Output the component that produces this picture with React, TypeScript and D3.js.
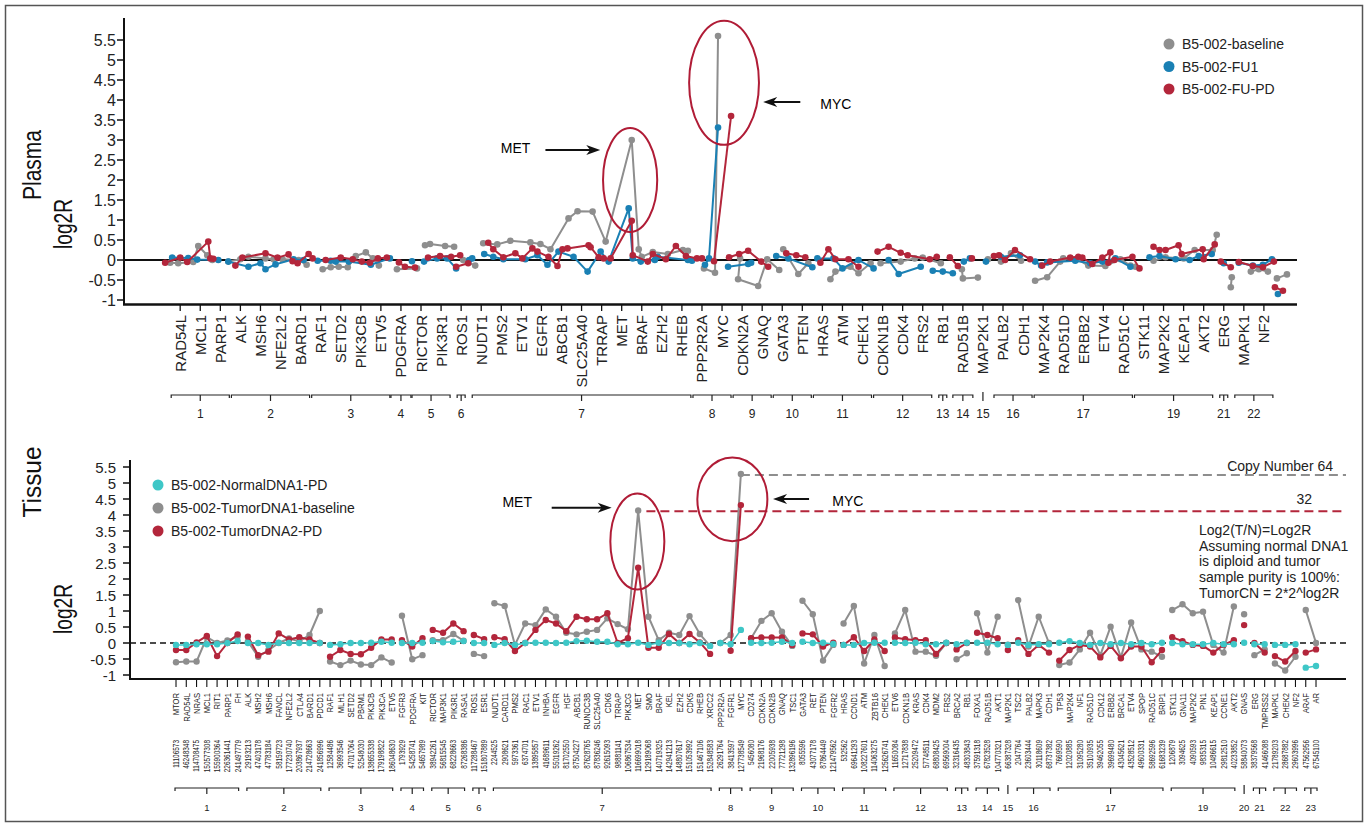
import React, { useEffect, useRef } from 'react'
import * as d3 from 'd3'

const W = 1370
const H = 825
const FONT = 'Liberation Sans, Arial, Helvetica, sans-serif'

const GRAY = '#8e8e8e'
const BLUE = '#1a80b4'
const RED = '#b3263b'
const CYAN = '#3ec7c7'
const RING = '#b01c36'

// ---------------- Plasma panel ----------------
const PLASMA_GENES = [
  'RAD54L', 'MCL1', 'PARP1', 'ALK', 'MSH6', 'NFE2L2', 'BARD1', 'RAF1', 'SETD2', 'PIK3CB', 'ETV5',
  'PDGFRA', 'RICTOR', 'PIK3R1', 'ROS1', 'NUDT1', 'PMS2', 'ETV1', 'EGFR', 'ABCB1', 'SLC25A40', 'TRRAP',
  'MET', 'BRAF', 'EZH2', 'RHEB', 'PPP2R2A', 'MYC', 'CDKN2A', 'GNAQ', 'GATA3', 'PTEN', 'HRAS', 'ATM',
  'CHEK1', 'CDKN1B', 'CDK4', 'FRS2', 'RB1', 'RAD51B', 'MAP2K1', 'PALB2', 'CDH1', 'MAP2K4', 'RAD51D',
  'ERBB2', 'ETV4', 'RAD51C', 'STK11', 'MAP2K2', 'KEAP1', 'AKT2', 'ERG', 'MAPK1', 'NF2',
]
const PLASMA_CHR = ['1', '2', '3', '4', '5', '6', '7', '8', '9', '10', '11', '12', '13', '14', '15', '16', '17', '19', '21', '22']
const PLASMA_CHR_SIZE = [3, 4, 4, 1, 2, 1, 11, 2, 2, 2, 3, 3, 1, 1, 1, 2, 5, 4, 1, 2]

// segments per chromosome: [gene position, log2R]
const PLASMA_BASELINE: [number, number][][] = [
  [[-0.5, -0.07], [-0.1, -0.08], [0.65, -0.05], [0.9, 0.35], [1.35, 0.12], [1.6, 0.0]],
  [[2.4, -0.04], [3.0, 0.02], [3.4, 0.08], [4.25, 0.04], [4.65, 0.02], [5.1, 0.02], [5.9, 0.0], [6.3, -0.12]],
  [[7.1, -0.23], [7.5, -0.18], [7.9, -0.17], [8.35, -0.18], [8.75, 0.1], [9.25, 0.19], [9.6, 0.04], [9.9, -0.14]],
  [[10.8, -0.23], [11.8, -0.21]],
  [[12.2, 0.37], [12.45, 0.4], [13.2, 0.35], [13.65, 0.33]],
  [[14.1, 0.0], [14.7, -0.14]],
  [[15.1, 0.42], [15.8, 0.39], [16.45, 0.48], [17.45, 0.44], [17.95, 0.4], [18.45, 0.27], [19.35, 1.04], [19.8, 1.22],
    [20.55, 1.21], [21.2, 0.46], [22.5, 3.0], [22.85, 0.27], [23.0, 0.08], [23.55, 0.2], [24.3, 0.15], [25.05, 0.25], [25.3, 0.23]],
  [[26.1, -0.21], [26.65, -0.32], [26.8, 5.6]],
  [[27.9, 0.04], [27.8, -0.48], [28.8, -0.65], [29.25, 0.02], [29.85, -0.25]],
  [[30.05, 0.27], [30.8, -0.35], [31.3, -0.08]],
  [[32.4, -0.48], [32.65, -0.29], [33.4, -0.17], [33.8, -0.33], [34.4, -0.08]],
  [[34.9, -0.08], [35.9, -0.04], [36.6, 0.04], [37.0, 0.06], [37.9, -0.08]],
  [[38.95, -0.23], [39.0, -0.46], [39.75, -0.44]],
  [[40.25, 0.02]],
  [[40.9, -0.04], [41.4, 0.17], [41.9, -0.02]],
  [[42.6, -0.52], [43.2, -0.43], [43.85, -0.04], [44.0, 0.04], [44.7, 0.02], [45.25, -0.14], [46.1, -0.15], [46.85, 0.02],
    [47.35, -0.14], [47.6, -0.17]],
  [[48.5, -0.02], [49.1, 0.07], [50.0, 0.04], [50.55, 0.25], [51.45, 0.25], [51.65, 0.63]],
  [[52.4, -0.43], [52.35, -0.68]],
  [[53.35, -0.29], [53.75, -0.23], [54.2, -0.29]],
  [[54.65, -0.46], [55.15, -0.36]],
]
const PLASMA_FU1: [number, number][][] = [
  [[-0.4, 0.06], [0.4, 0.05], [0.85, 0.01], [1.9, 0.0]],
  [[2.4, -0.04], [3.4, -0.17], [4.0, -0.08], [4.25, -0.23], [4.75, -0.11], [5.65, 0.02], [6.15, 0.0]],
  [[6.85, -0.02], [7.5, -0.02], [7.75, -0.04], [8.4, -0.04], [9.5, -0.12], [10.45, 0.04]],
  [[11.55, -0.03]],
  [[12.15, -0.04], [12.8, 0.04], [13.3, 0.04], [13.75, -0.21]],
  [[14.4, 0.0], [14.55, 0.04]],
  [[15.15, 0.15], [15.6, 0.08], [16.1, 0.02], [17.2, 0.02], [17.8, 0.12], [18.3, -0.12], [18.85, 0.21], [19.6, 0.08],
    [20.3, -0.29], [20.95, 0.21], [21.35, -0.04], [22.35, 1.29], [22.55, 0.04], [22.95, -0.04], [23.65, 0.0], [23.8, 0.08],
    [25.3, 0.0], [25.5, -0.02]],
  [[26.15, -0.12], [26.35, 0.04], [26.8, 3.31]],
  [[27.3, -0.17], [28.3, -0.1], [28.45, -0.07]],
  [[29.7, 0.1], [30.3, 0.04], [31.5, -0.18]],
  [[31.75, 0.04], [32.55, 0.04], [33.0, -0.21], [33.8, 0.0], [34.55, -0.21]],
  [[35.3, 0.0], [35.8, -0.35], [36.9, -0.17]],
  [[37.5, -0.27], [38.0, -0.29], [38.5, -0.33]],
  [[39.05, -0.04], [39.35, 0.04]],
  [[40.15, -0.04]],
  [[40.9, 0.08], [41.85, 0.12]],
  [[42.6, -0.04], [42.9, -0.14], [43.2, -0.06], [44.6, -0.02], [45.35, -0.08], [45.95, -0.04], [46.6, 0.04], [47.35, -0.17]],
  [[48.3, 0.07], [48.8, 0.1], [49.6, 0.02], [50.3, 0.0], [50.75, 0.1], [51.4, 0.15]],
  [[52.0, -0.08]],
  [[52.75, -0.07], [53.45, -0.14], [53.95, -0.12], [54.4, 0.02]],
  [[54.7, -0.85]],
]
const PLASMA_FUPD: [number, number][][] = [
  [[-0.75, -0.07], [0.0, 0.06], [0.35, -0.05], [1.4, 0.46], [1.5, 0.04], [1.65, 0.03]],
  [[2.75, -0.14], [3.1, 0.06], [4.25, 0.17], [4.85, 0.06], [5.4, 0.14], [5.6, -0.03], [5.85, -0.08], [6.4, 0.15], [6.6, 0.04]],
  [[7.25, 0.0], [8.0, 0.06], [8.6, 0.02], [9.05, -0.04], [9.45, -0.07], [9.85, 0.04], [10.3, 0.06]],
  [[10.9, -0.06], [11.2, -0.17], [11.7, -0.19]],
  [[12.35, 0.06], [12.95, 0.1], [13.5, 0.08], [13.95, 0.12]],
  [[13.75, -0.17], [14.35, -0.08]],
  [[15.35, 0.43], [15.6, 0.27], [16.1, 0.07], [16.7, 0.17], [17.05, 0.04], [17.55, 0.29], [17.8, 0.21], [18.35, 0.08],
    [18.8, -0.15], [19.05, 0.27], [19.3, 0.29], [20.35, 0.37], [20.45, 0.32], [20.85, 0.07], [21.1, 0.04], [21.45, 0.04],
    [22.5, 0.98], [22.55, 0.12], [23.3, -0.04], [23.55, 0.15], [24.2, 0.02], [24.7, 0.35], [25.2, 0.1], [25.75, 0.04], [26.0, 0.04]],
  [[26.6, -0.03], [27.45, 3.6]],
  [[27.35, 0.07], [27.85, 0.15], [28.3, 0.23], [28.95, -0.04], [29.3, -0.17]],
  [[30.2, 0.17], [30.7, 0.12], [31.15, 0.07]],
  [[31.9, -0.07], [32.3, 0.27], [32.65, 0.02], [33.3, 0.02], [33.8, -0.17]],
  [[34.75, 0.21], [35.3, 0.33], [35.9, 0.18], [36.25, 0.12], [37.35, 0.02], [37.7, 0.08]],
  [[38.35, 0.07], [38.75, -0.15]],
  [[39.45, 0.04]],
  [[40.55, 0.1], [40.8, 0.12], [41.1, 0.0], [41.6, 0.25], [42.35, 0.02]],
  [[42.95, -0.14], [43.35, -0.04], [44.35, 0.06], [44.75, 0.08], [44.95, 0.06], [45.45, -0.1], [45.95, 0.06], [46.35, 0.19],
    [46.25, -0.07], [46.55, 0.0], [47.45, 0.08], [47.8, -0.21]],
  [[48.5, 0.33], [48.8, 0.25], [49.1, 0.25], [49.75, 0.37], [49.9, 0.15], [50.95, 0.27], [51.0, 0.02], [51.55, 0.39]],
  [[51.85, -0.04], [52.35, -0.18]],
  [[52.75, -0.05], [53.45, -0.15], [53.95, -0.18], [54.5, -0.04]],
  [[54.55, -0.68], [54.95, -0.77]],
]

// ---------------- Tissue panel ----------------
const TISSUE_GENES = [
  'MTOR', 'RAD54L', 'NRAS', 'MCL1', 'RIT1', 'PARP1', 'FH',
  'ALK', 'MSH2', 'MSH6', 'FANCL', 'NFE2L2', 'CTLA4', 'BARD1', 'PDCD1',
  'RAF1', 'MLH1', 'SETD2', 'PBRM1', 'PIK3CB', 'PIK3CA', 'ETV5',
  'FGFR3', 'PDGFRA', 'KIT',
  'RICTOR', 'MAP3K1', 'PIK3R1', 'RASA1',
  'ROS1', 'ESR1',
  'NUDT1', 'CARD11', 'PMS2', 'RAC1', 'ETV1', 'INHBA', 'EGFR', 'HGF', 'ABCB1', 'RUNDC3B', 'SLC25A40', 'CDK6',
  'TRRAP', 'PIK3CG', 'MET', 'SMO', 'BRAF', 'KEL', 'EZH2', 'CDK5', 'RHEB', 'XRCC2',
  'PPP2R2A', 'FGFR1', 'MYC',
  'CD274', 'CDKN2A', 'CDKN2B', 'GNAQ', 'TSC1',
  'GATA3', 'RET', 'PTEN', 'FGFR2',
  'HRAS', 'CCND1', 'ATM', 'ZBTB16', 'CHEK1',
  'ETV6', 'CDKN1B', 'KRAS', 'CDK4', 'MDM2', 'FRS2',
  'BRCA2', 'RB1',
  'FOXA1', 'RAD51B', 'AKT1',
  'MAP2K1',
  'TSC2', 'PALB2', 'MAPK3', 'CDH1',
  'TP53', 'MAP2K4', 'NF1', 'RAD51D', 'CDK12', 'ERBB2', 'BRCA1', 'ETV4', 'SPOP', 'RAD51C', 'BRIP1',
  'STK11', 'GNA11', 'MAP2K2', 'PIN1', 'KEAP1', 'CCNE1', 'AKT2',
  'GNAS',
  'ERG', 'TMPRSS2',
  'MAPK1', 'CHEK2', 'NF2',
  'ARAF', 'AR',
]
const TISSUE_POS = [
  '11106573', '46248348', '114708475', '150577308', '155900364', '226361441', '241497779',
  '29193213', '47403178', '47783184', '58159723', '177230740', '203867937', '214728663', '241856996',
  '12584486', '36993546', '47017064', '52548030', '138655338', '179198822', '186048630',
  '1793929', '54258741', '54657989',
  '38942261', '56815545', '68228663', '87268386',
  '117288467', '151807889',
  '2244525', '2908621', '5973361', '6374701', '13895857', '41689611', '55019262', '81702550', '87504227', '87628765',
  '87836246', '92615093', '98881141', '106867534', '116699018', '129189068', '140719325', '142941213', '148807617',
  '151053992', '151467106', '152848583',
  '26291764', '38413597', '127738549',
  '5456080', '21968176', '22005938', '77721298', '132896196',
  '8055596', '43077178', '87864449', '121479562',
  '532562', '69641293', '108227601', '114063275', '125626741',
  '11650084', '12717838', '25209472', '57748511', '68808425', '69569004',
  '32316435', '48303843',
  '37591318', '67823528', '104770321',
  '66387328',
  '2047764', '23603444', '30118609', '68737382',
  '7669590', '12020885', '31095280', '35100935', '39462055', '39699480', '43045621', '43528512', '49600331', '58692596', '61683239',
  '1206879', '3094625', '4090593', '9835315', '10486615', '29812510', '40233852',
  '58840073',
  '38379568', '41466088',
  '21789203', '28687882', '29603996',
  '47562956', '67545100',
]
const TISSUE_CHR = ['1', '2', '3', '4', '5', '6', '7', '8', '9', '10', '11', '12', '13', '14', '15', '16', '17', '19', '20', '21', '22', '23']
const TISSUE_CHR_SIZE = [7, 8, 7, 3, 4, 2, 22, 3, 5, 4, 5, 6, 2, 3, 1, 4, 11, 7, 1, 2, 3, 2]

const TISSUE_NORMAL: (number | null)[] = [
  -0.06, -0.06, -0.04, -0.04, -0.04, 0.0, 0.06,
  0.0, 0.0, -0.06, 0.01, 0.0, 0.0, 0.0, 0.0,
  -0.06, -0.04, 0.0, 0.0, 0.01, 0.04, 0.01,
  0.0, 0.0, 0.01,
  0.06, 0.02, 0.04, 0.06,
  0.0, 0.0,
  -0.06, 0.0, -0.06, 0.0, 0.01, 0.01, 0.0, 0.01, 0.06, 0.07, 0.04, 0.04, -0.04, -0.04, 0.01, -0.06, 0.01, 0.0, 0.0, -0.04, 0.0, -0.09,
  0.0, -0.04, 0.41,
  0.01, 0.0, 0.01, 0.04, 0.0,
  0.04, 0.0, 0.01, -0.03,
  -0.06, -0.06, 0.0, 0.01, 0.01,
  0.01, 0.0, 0.01, -0.04, -0.04, 0.01,
  -0.04, 0.01,
  0.01, 0.01, -0.04,
  -0.06,
  0.01, -0.06, -0.04, -0.04,
  0.01, 0.06, 0.0, -0.06, 0.0, -0.04, 0.0, -0.04, 0.0, -0.04, 0.01,
  0.0, -0.04, -0.04, -0.04, 0.0, -0.04, -0.04,
  0.01,
  -0.04, -0.04,
  -0.06, -0.06, -0.04,
  -0.77, -0.72,
]
const TISSUE_TUMOR1: (number | null)[] = [
  -0.6, -0.58, -0.58, 0.18, 0.0, 0.08, 0.2,
  0.05, -0.43, -0.22, 0.0, 0.14, 0.05, 0.25, 1.0,
  -0.58, -0.69, -0.55, -0.67, -0.69, -0.45, -0.61,
  0.85, -0.51, -0.38,
  0.09, 0.09, 0.28, 0.07,
  -0.34, -0.41,
  1.24, 1.16, -0.06, 0.61, 0.56, 1.05, 0.82, 0.32, 0.27, 0.35, 0.41, 0.77, 0.59, 0.43, 4.14, 0.82, 0.09, 0.32, 0.25, 0.84, 0.28, -0.09,
  0.0, 0.25, 5.28,
  0.15, 0.69, 0.93, 0.35, -0.09,
  1.32, 0.9, -0.55, -0.06,
  0.61, 1.16, -0.64, 0.25, -0.72,
  0.3, 1.03, -0.27, -0.27, -0.4, 0.0,
  -0.51, -0.32,
  0.93, -0.3, 0.82,
  -0.05,
  1.34, -0.11, 0.82, 0.0,
  -0.69, -0.61, -0.2, 0.32, -0.38, 0.51, -0.45, 0.64, -0.2, -0.27, -0.43,
  1.03, 1.21, 0.93, 0.98, -0.06, -0.3, 1.14,
  0.9,
  -0.38, -0.2,
  -0.64, -0.86, -0.43,
  1.03, 0.0,
]
const TISSUE_TUMOR2: (number | null)[] = [
  -0.22, -0.22, 0.02, 0.22, -0.41, 0.0, 0.27,
  0.2, -0.38, -0.27, 0.3, 0.11, 0.18, 0.11, 0.0,
  -0.43, -0.22, -0.34, -0.35, -0.15, 0.11, 0.11,
  0.09, -0.11, 0.15,
  0.41, 0.32, 0.61, 0.37,
  0.25, 0.12,
  0.18, 0.12, -0.25, 0.0, 0.41, 0.72, 0.61, 0.37, 0.82, 0.74, 0.74, 0.93, 0.0, 0.15, 2.35, -0.15, -0.15, 0.28, 0.0, 0.28, 0.02, -0.34,
  null, -0.24, 4.31,
  0.15, 0.17, 0.17, 0.17, -0.06,
  0.3, 0.27, -0.11, 0.01,
  -0.06, 0.18, -0.25, 0.11, -0.25,
  0.17, 0.12, 0.09, 0.09, -0.34, 0.0,
  -0.2, 0.0,
  0.32, 0.25, 0.15,
  -0.22,
  0.09, -0.34, -0.06, -0.3,
  -0.55, -0.22, -0.06, -0.11, -0.45, -0.09, -0.48, -0.11, -0.11, -0.6, -0.22,
  0.18, 0.06, -0.06, -0.09, -0.3, -0.06, 0.09,
  0.56,
  0.0, -0.3,
  -0.41, -0.58, -0.25,
  -0.3, -0.2,
]

const Y_TICKS = [-1, -0.5, 0, 0.5, 1, 1.5, 2, 2.5, 3, 3.5, 4, 4.5, 5, 5.5]

// copy-number reference lines (tissue): log2R level, start gene index, label
const CN_LEVEL = [5.25, 4.12]
const CN_FROM = [55, 45.8]
const CN_LABEL = ['Copy Number 64', '32']

const TISSUE_NOTE = [
  'Log2(T/N)=Log2R',
  'Assuming normal DNA1',
  'is diploid and tumor',
  'sample purity is 100%:',
  'TumorCN = 2*2^log2R',
]

type Seg = [number, number][]

function drawSegments(g: any, segs: Seg[], x: any, y: any, color: string, r: number, lw: number) {
  const line = d3.line<[number, number]>().x(d => x(d[0])).y(d => y(d[1]))
  segs.forEach(seg => {
    if (seg.length > 1) {
      g.append('path').attr('d', line(seg)).attr('fill', 'none')
        .attr('stroke', color).attr('stroke-width', lw).attr('stroke-linejoin', 'round')
    }
  })
  segs.forEach(seg => {
    seg.forEach(d => {
      g.append('circle').attr('cx', x(d[0])).attr('cy', y(d[1])).attr('r', r).attr('fill', color)
    })
  })
}

function toSegments(values: (number | null)[], sizes: number[]): Seg[] {
  const out: Seg[] = []
  let start = 0
  sizes.forEach(n => {
    let cur: Seg = []
    for (let i = start; i < start + n; i++) {
      const v = values[i]
      if (v == null) { if (cur.length) out.push(cur); cur = [] } else cur.push([i, v])
    }
    if (cur.length) out.push(cur)
    start += n
  })
  return out
}

function drawBrackets(g: any, x: any, labels: string[], sizes: number[], y: number, numY: number,
  pad: (n: number, lab: string) => number, fontSize: number, tickOnly: string[]) {
  let start = 0
  labels.forEach((lab, k) => {
    const n = sizes[k]
    const x0 = x(start), x1 = x(start + n - 1)
    const xm = (x0 + x1) / 2
    if (tickOnly.includes(lab)) {
      g.append('line').attr('x1', xm).attr('x2', xm).attr('y1', y - 3).attr('y2', y + 6)
        .attr('stroke', '#222').attr('stroke-width', 1.2)
    } else {
      const p = pad(n, lab)
      g.append('path')
        .attr('d', `M${x0 - p},${y + 3}L${x0 - p},${y}L${x1 + p},${y}L${x1 + p},${y + 3}M${xm},${y}L${xm},${y + 6}`)
        .attr('fill', 'none').attr('stroke', '#222').attr('stroke-width', 1.2)
    }
    g.append('text').attr('x', xm).attr('y', numY).attr('text-anchor', 'middle')
      .attr('dominant-baseline', 'central').attr('font-size', fontSize).attr('font-family', FONT)
      .attr('fill', '#222').text(lab)
    start += n
  })
}

function arrow(g: any, x1: number, y1: number, x2: number, y2: number) {
  const dir = Math.sign(x2 - x1)
  g.append('line').attr('x1', x1).attr('y1', y1).attr('x2', x2 - dir * 8).attr('y2', y2)
    .attr('stroke', '#111').attr('stroke-width', 2)
  g.append('path')
    .attr('d', `M${x2},${y2}L${x2 - dir * 14},${y2 - 5}L${x2 - dir * 10},${y2}L${x2 - dir * 14},${y2 + 5}Z`)
    .attr('fill', '#111')
}

function yAxis(g: any, y: any, xAxis: number, top: number, bottom: number, fs: number, labelRight: number) {
  g.append('line').attr('x1', xAxis).attr('x2', xAxis).attr('y1', top).attr('y2', bottom)
    .attr('stroke', '#111').attr('stroke-width', 2)
  Y_TICKS.forEach(t => {
    g.append('line').attr('x1', xAxis - 7).attr('x2', xAxis).attr('y1', y(t)).attr('y2', y(t))
      .attr('stroke', '#111').attr('stroke-width', 1.5)
    g.append('text').attr('x', labelRight).attr('y', y(t)).attr('text-anchor', 'end')
      .attr('dominant-baseline', 'central').attr('font-size', fs).attr('font-family', FONT)
      .attr('fill', '#222').text(String(t))
  })
}

function sideTitle(g: any, x: number, y: number, label: string, len: number) {
  g.append('text').attr('transform', `translate(${x},${y}) rotate(-90)`)
    .attr('text-anchor', 'middle').attr('dominant-baseline', 'central')
    .attr('font-size', 25).attr('font-family', FONT).attr('fill', '#111')
    .attr('textLength', len).attr('lengthAdjust', 'spacingAndGlyphs').text(label)
}

function legend(g: any, x: number, y: number, step: number, names: string[], colors: string[]) {
  names.forEach((nm, i) => {
    g.append('circle').attr('cx', x).attr('cy', y + i * step).attr('r', 5.5).attr('fill', colors[i])
    g.append('text').attr('x', x + 13).attr('y', y + i * step).attr('dominant-baseline', 'central')
      .attr('font-size', 14).attr('font-family', FONT).attr('fill', '#222').text(nm)
  })
}

export default function App() {
  const ref = useRef<SVGSVGElement>(null)

  useEffect(() => {
    const svg = d3.select(ref.current)
    svg.selectAll('*').remove()
    svg.append('rect').attr('width', W).attr('height', H).attr('fill', '#fff')
    svg.append('rect').attr('x', 5.5).attr('y', 5.5).attr('width', 1357).attr('height', 816)
      .attr('fill', 'none').attr('stroke', '#555').attr('stroke-width', 1.5)

    // ===== Plasma =====
    const xP = d3.scaleLinear().domain([-2.8, 55.65]).range([124, 1297])
    const yP = d3.scaleLinear().domain([-1, 5.5]).range([300, 40])
    const gp = svg.append('g')

    sideTitle(gp, 32, 165, 'Plasma', 70)
    sideTitle(gp, 63, 224, 'log2R', 50)
    yAxis(gp, yP, 124, yP(6.05), 305, 16, 116)

    gp.append('line').attr('x1', 124).attr('x2', 1297).attr('y1', yP(0)).attr('y2', yP(0))
      .attr('stroke', '#111').attr('stroke-width', 2)
    gp.append('line').attr('x1', 123).attr('x2', 1297).attr('y1', 304.5).attr('y2', 304.5)
      .attr('stroke', '#111').attr('stroke-width', 2.5)
    PLASMA_GENES.forEach((gn, i) => {
      gp.append('line').attr('x1', xP(i)).attr('x2', xP(i)).attr('y1', 304).attr('y2', 311)
        .attr('stroke', '#111').attr('stroke-width', 1.3)
      gp.append('text').attr('transform', `translate(${xP(i)},315) rotate(-90)`)
        .attr('text-anchor', 'end').attr('dominant-baseline', 'central')
        .attr('font-size', 15).attr('font-family', FONT).attr('fill', '#222').text(gn)
    })
    drawBrackets(gp, xP, PLASMA_CHR, PLASMA_CHR_SIZE, 395, 414,
      (n, lab) => (n > 1 ? 9 : (lab === '4' || lab === '14' ? 10 : 4)), 12, ['15'])

    drawSegments(gp, PLASMA_BASELINE, xP, yP, GRAY, 3.3, 2)
    drawSegments(gp, PLASMA_FU1, xP, yP, BLUE, 3.3, 2)
    drawSegments(gp, PLASMA_FUPD, xP, yP, RED, 3.3, 2)

    // annotations
    const ringP: [number, number, number, number][] = [[22.42, 2.0, 1.35, 1.3], [27.1, 4.43, 1.74, 1.55]]
    ringP.forEach(([u, v, du, dv]) => {
      gp.append('ellipse').attr('cx', xP(u)).attr('cy', yP(v))
        .attr('rx', xP(u + du) - xP(u)).attr('ry', yP(v) - yP(v + dv))
        .attr('fill', 'none').attr('stroke', RING).attr('stroke-width', 2)
    })
    arrow(gp, xP(18.2), yP(2.75), xP(20.93), yP(2.75))
    gp.append('text').attr('x', xP(17.45)).attr('y', yP(2.8)).attr('text-anchor', 'end')
      .attr('dominant-baseline', 'central').attr('font-size', 14).attr('font-family', FONT).text('MET')
    arrow(gp, xP(30.9), yP(3.95), xP(29.05), yP(3.95))
    gp.append('text').attr('x', xP(31.9)).attr('y', yP(3.9))
      .attr('dominant-baseline', 'central').attr('font-size', 14).attr('font-family', FONT).text('MYC')

    legend(gp, 1169, 44, 22.5, ['B5-002-baseline', 'B5-002-FU1', 'B5-002-FU-PD'], [GRAY, BLUE, RED])

    // ===== Tissue =====
    const xT = d3.scaleLinear().domain([-4.48, 113.92]).range([130, 1346])
    const yT = d3.scaleLinear().domain([-1, 5.5]).range([675, 467])
    const gt = svg.append('g')

    sideTitle(gt, 32, 482, 'Tissue', 71)
    sideTitle(gt, 63, 609, 'log2R', 50)
    yAxis(gt, yT, 130, 460, 680, 15, 116)

    gt.append('line').attr('x1', 130).attr('x2', 1346).attr('y1', yT(0)).attr('y2', yT(0))
      .attr('stroke', '#111').attr('stroke-width', 1.6).attr('stroke-dasharray', '6,4')
    gt.append('line').attr('x1', 129).attr('x2', 1346).attr('y1', 679).attr('y2', 679)
      .attr('stroke', '#111').attr('stroke-width', 2)
    TISSUE_GENES.forEach((gn, i) => {
      gt.append('line').attr('x1', xT(i)).attr('x2', xT(i)).attr('y1', 679).attr('y2', 687)
        .attr('stroke', '#111').attr('stroke-width', 1.1)
      gt.append('text').attr('transform', `translate(${xT(i)},693) rotate(-90) scale(0.8,1)`)
        .attr('text-anchor', 'end').attr('dominant-baseline', 'central')
        .attr('font-size', 9.5).attr('font-family', FONT).attr('fill', '#222').text(gn)
      gt.append('text').attr('transform', `translate(${xT(i)},740) rotate(-90) scale(0.68,1)`)
        .attr('text-anchor', 'end').attr('dominant-baseline', 'central')
        .attr('font-size', 9.5).attr('font-family', FONT).attr('fill', '#222').text(TISSUE_POS[i])
    })
    drawBrackets(gt, xT, TISSUE_CHR, TISSUE_CHR_SIZE, 788, 807, (n) => (n > 1 ? 1 : 3), 9.5, ['15', '20'])

    // copy-number reference lines
    const baseColor = [GRAY, RED]
    CN_LEVEL.forEach((lv, k) => {
      gt.append('line').attr('x1', xT(CN_FROM[k])).attr('x2', 1346).attr('y1', yT(lv)).attr('y2', yT(lv))
        .attr('stroke', baseColor[k]).attr('stroke-width', 2).attr('stroke-dasharray', '9,5')
    })
    gt.append('text').attr('x', 1333).attr('y', yT(CN_LEVEL[0]) - 9).attr('text-anchor', 'end')
      .attr('font-size', 14).attr('font-family', FONT).attr('fill', '#222').attr('dominant-baseline', 'central')
      .text(CN_LABEL[0])
    gt.append('text').attr('x', 1312).attr('y', yT(CN_LEVEL[1]) - 12).attr('text-anchor', 'end')
      .attr('font-size', 14).attr('font-family', FONT).attr('fill', '#222').attr('dominant-baseline', 'central')
      .text(CN_LABEL[1])
    TISSUE_NOTE.forEach((ln, i) => {
      gt.append('text').attr('x', 1199).attr('y', 530 + i * 15.7).attr('dominant-baseline', 'central')
        .attr('font-size', 14).attr('font-family', FONT).attr('fill', '#222').text(ln)
    })

    drawSegments(gt, toSegments(TISSUE_TUMOR1, TISSUE_CHR_SIZE), xT, yT, GRAY, 3.2, 2)
    drawSegments(gt, toSegments(TISSUE_TUMOR2, TISSUE_CHR_SIZE), xT, yT, RED, 3.2, 2)
    drawSegments(gt, toSegments(TISSUE_NORMAL, TISSUE_CHR_SIZE), xT, yT, CYAN, 3.2, 1.5)

    const ringT: [number, number, number, number][] = [[44.92, 3.17, 2.63, 1.5], [54.17, 4.49, 3.41, 1.31]]
    ringT.forEach(([u, v, du, dv]) => {
      gt.append('ellipse').attr('cx', xT(u)).attr('cy', yT(v))
        .attr('rx', xT(u + du) - xT(u)).attr('ry', yT(v) - yT(v + dv))
        .attr('fill', 'none').attr('stroke', RING).attr('stroke-width', 2)
    })
    arrow(gt, xT(36.58), yT(4.23), xT(42.42), yT(4.23))
    gt.append('text').attr('x', xT(34.66)).attr('y', yT(4.4)).attr('text-anchor', 'end')
      .attr('dominant-baseline', 'central').attr('font-size', 14).attr('font-family', FONT).text('MET')
    arrow(gt, xT(61.64), yT(4.5), xT(58.13), yT(4.5))
    gt.append('text').attr('x', xT(63.9)).attr('y', yT(4.45))
      .attr('dominant-baseline', 'central').attr('font-size', 14).attr('font-family', FONT).text('MYC')

    legend(gt, 158, 485, 23, ['B5-002-NormalDNA1-PD', 'B5-002-TumorDNA1-baseline', 'B5-002-TumorDNA2-PD'], [CYAN, GRAY, RED])
  }, [])

  return (
    <div style={{ position: 'absolute', left: 0, top: 0 }}>
      <svg ref={ref} width={W} height={H} style={{ display: 'block' }} />
    </div>
  )
}
